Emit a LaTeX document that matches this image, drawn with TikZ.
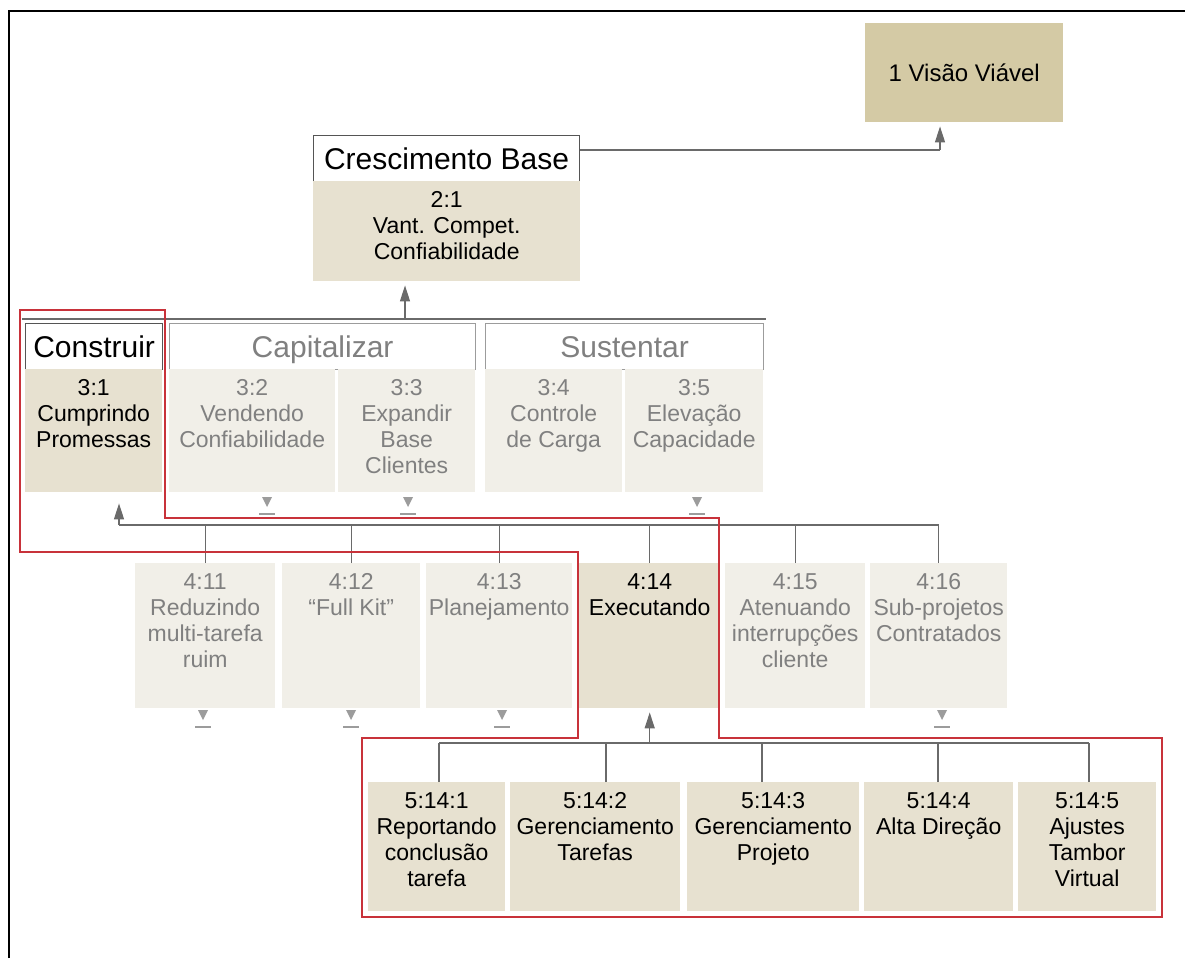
\documentclass[tikz,border=0pt]{standalone}
\usepackage{fontspec}
\setmainfont{Liberation Sans}
\usetikzlibrary{arrows.meta}

\definecolor{tandark}{HTML}{D4CAA5}
\definecolor{tanlight}{HTML}{E7E1D0}
\definecolor{greylight}{HTML}{F1EFE8}
\definecolor{textgrey}{HTML}{808080}
\definecolor{linegrey}{HTML}{6A6A6A}
\definecolor{markgrey}{HTML}{9C9C9C}
\definecolor{bordergrey}{HTML}{555555}
\definecolor{redline}{HTML}{C8323A}

\begin{document}
\begin{tikzpicture}[
  x = 1pt, y = -1pt,
  wh/.style 2 args = {minimum width=#1pt, minimum height=#2pt},
  cell/.style = {rectangle, inner sep=0pt, anchor=north west, fill=#1},
  head/.style = {cell=white, draw=#1, line width=1.2pt, text height=21pt, text depth=0pt,
                 font=\fontsize{30}{34}\selectfont},
  txt/.style = {anchor=north, yshift=-10pt, inner sep=0pt, align=center,
                font=\fontsize{23}{26}\selectfont},
  faint/.style = {txt, text=textgrey},
  link/.style = {draw=linegrey, line width=1.3pt},
  up/.style = {link, -{Triangle[width=10pt,length=16pt]}, shorten >=4pt},
  focus/.style = {draw=redline, line width=1.5pt}
  ]
  \useasboundingbox (0,0) rectangle (1185,958);
  \draw[line width=2pt] (9,958) -- (9,11) -- (1185,11);

  % goal and level 2
  \node[cell=tandark, wh={198}{99}, font=\fontsize{24}{28}\selectfont] (vis) at (865,23) {1 Visão Viável};
  \node[head=bordergrey, wh={266}{46}] (cb) at (313,135) {Crescimento Base};
  \node[cell=tanlight, wh={267}{100}] (b21) at (313,181) {};
  \node[txt] (t21) at (b21.north) {2:1\\Vant. Compet.\\Confiabilidade};

  % level 3
  \node[head=bordergrey, wh={137}{46}] (hbuild) at (25,323) {Construir};
  \node[head=markgrey, text=textgrey, wh={306}{46}] (hcap) at (169,323) {Capitalizar};
  \node[head=markgrey, text=textgrey, wh={278}{46}] (hsus) at (485,323) {Sustentar};

  \node[cell=tanlight, wh={137}{123}] (b31) at (25,369) {};
  \node[cell=greylight, wh={166}{123}] (b32) at (169,369) {};
  \node[cell=greylight, wh={137}{123}] (b33) at (338,369) {};
  \node[cell=greylight, wh={137}{123}] (b34) at (485,369) {};
  \node[cell=greylight, wh={138}{123}] (b35) at (625,369) {};
  \node[txt] (t31) at (b31.north) {3:1\\Cumprindo\\Promessas};
  \node[faint] (t32) at (b32.north) {3:2\\Vendendo\\Confiabilidade};
  \node[faint] (t33) at (b33.north) {3:3\\Expandir\\Base\\Clientes};
  \node[faint] (t34) at (b34.north) {3:4\\Controle\\de Carga};
  \node[faint] (t35) at (b35.north) {3:5\\Elevação\\Capacidade};

  % level 4
  \node[cell=greylight, wh={140}{145}] (b411) at (135,563) {};
  \node[cell=greylight, wh={138}{145}] (b412) at (282,563) {};
  \node[cell=greylight, wh={146}{145}] (b413) at (426,563) {};
  \node[cell=tanlight, wh={141}{145}] (b414) at (579,563) {};
  \node[cell=greylight, wh={140}{145}] (b415) at (725,563) {};
  \node[cell=greylight, wh={137}{145}] (b416) at (870,563) {};
  \node[faint] (t411) at (b411.north) {4:11\\Reduzindo\\multi-tarefa\\ruim};
  \node[faint] (t412) at (b412.north) {4:12\\“Full Kit”};
  \node[faint] (t413) at (b413.north) {4:13\\Planejamento};
  \node[txt] (t414) at (b414.north) {4:14\\Executando};
  \node[faint] (t415) at (b415.north) {4:15\\Atenuando\\interrupções\\cliente};
  \node[faint] (t416) at (b416.north) {4:16\\Sub-projetos\\Contratados};

  % level 5
  \node[cell=tanlight, wh={137}{129}] (b5141) at (368,782) {};
  \node[cell=tanlight, wh={170}{129}] (b5142) at (510,782) {};
  \node[cell=tanlight, wh={172}{129}] (b5143) at (687,782) {};
  \node[cell=tanlight, wh={149}{129}] (b5144) at (864,782) {};
  \node[cell=tanlight, wh={138}{129}] (b5145) at (1018,782) {};
  \node[txt] (t5141) at (b5141.north) {5:14:1\\Reportando\\conclusão\\tarefa};
  \node[txt] (t5142) at (b5142.north) {5:14:2\\Gerenciamento\\Tarefas};
  \node[txt] (t5143) at (b5143.north) {5:14:3\\Gerenciamento\\Projeto};
  \node[txt] (t5144) at (b5144.north) {5:14:4\\Alta Direção};
  \node[txt] (t5145) at (b5145.north) {5:14:5\\Ajustes\\Tambor\\Virtual};

  % small markers under the collapsed branches
  \foreach \x/\y in {267/497, 408/497, 697/497, 203/710, 351/710, 502/710, 942/710} {
    \fill[markgrey] (\x-5,\y) -- (\x+5,\y) -- (\x,\y+10) -- cycle;
    \draw[markgrey, line width=2pt] (\x-8,\y+17) -- (\x+8,\y+17);
  }

  % connectors
  \coordinate (bus1) at (940,150);
  \draw[link] (cb.east |- bus1) -- (bus1);
  \draw[up] (bus1) -- (bus1 |- vis.south);

  \coordinate (bus2w) at (22,319);
  \coordinate (bus2e) at (766,319);
  \coordinate (bus2) at (405,319);
  \draw[link, line width=1.8pt] (bus2w) -- (bus2e);
  \draw[up] (bus2) -- (bus2 |- b21.south);

  \coordinate (bus3w) at (119,525);
  \coordinate (bus3e) at (939,525);
  \draw[link] (bus3w) -- (bus3e);
  \draw[up, shorten >=11pt] (bus3w) -- (bus3w |- b31.south);
  \foreach \n in {411,...,416}
    \draw[link] (b\n.north) -- (b\n.north |- bus3w);

  \coordinate (bus4w) at (439,743);
  \coordinate (bus4e) at (1089,743);
  \draw[link] (bus4w) -- (bus4e);
  \draw[up] (b414.south |- bus4w) -- (b414.south);
  \foreach \n/\x in {1/439, 2/606, 3/762, 4/938, 5/1089}
    \draw[link] (b514\n.north -| \x,0) -- (bus4w -| \x,0);

  % highlighted path
  \draw[focus] (20,310) -- (165,310) -- (165,518) -- (719,518) -- (719,738)
    -- (1162,738) -- (1162,917) -- (362,917) -- (362,738) -- (578,738)
    -- (578,552) -- (20,552) -- cycle;
\end{tikzpicture}
\end{document}
